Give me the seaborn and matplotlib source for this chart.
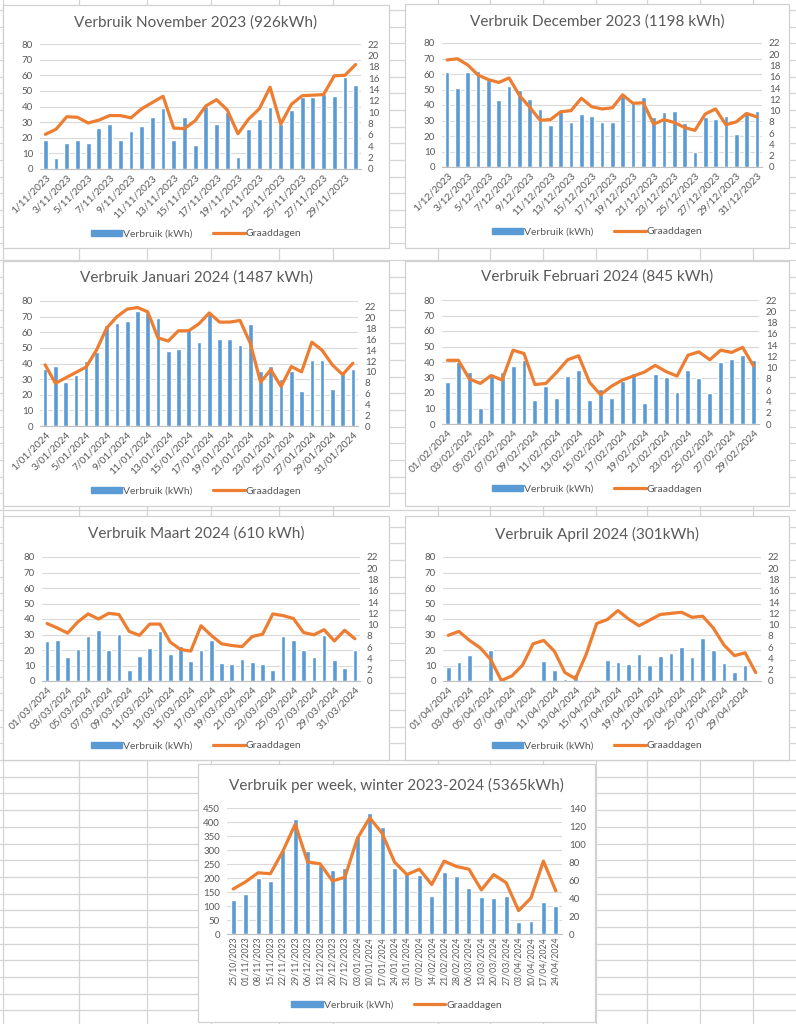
import numpy as np
import pandas as pd
import matplotlib.pyplot as plt
import matplotlib.patches as mpatches
from matplotlib.lines import Line2D
import seaborn as sns

sns.set_style("white")
plt.rcParams['font.family'] = ['Lato', 'DejaVu Sans']

W, H = 796, 1024
BLUE = '#5B9BD5'
ORANGE = '#ED7D31'
TXT = '#595959'
GRID = '#D9D9D9'

# daily data: kWh (bars) and graaddagen (line)
nov_kwh = [18.4, 7.3, 16.5, 18.4, 16.5, 26.5, 28.9, 18.4, 24.2, 27.8, 33.4, 39.1, 18.4, 33.4, 15.4,
           40.6, 28.9, 36.4, 7.7, 25.5, 32.3, 39.8, 29.0, 37.9, 46.0, 46.0, 48.0, 46.8, 59.0, 54.0]
nov_gd = [6.1, 7.0, 9.2, 9.1, 8.1, 8.6, 9.4, 9.4, 9.0, 10.6, 11.7, 12.8, 7.2, 7.1, 8.5,
          11.1, 12.2, 10.4, 6.2, 8.8, 10.6, 14.4, 7.9, 11.4, 12.9, 13.0, 13.1, 16.4, 16.5, 18.4]

dec_kwh = [61.0, 51.2, 61.0, 62.0, 56.0, 43.2, 52.0, 50.0, 44.0, 37.6, 26.8, 36.8, 29.2, 34.4, 33.0, 28.8,
           28.8, 46.0, 42.0, 45.2, 32.2, 35.7, 36.1, 28.5, 9.7, 32.4, 31.1, 33.0, 21.6, 34.6, 36.1]
dec_gd = [19.0, 19.2, 18.1, 16.3, 15.5, 15.0, 15.8, 12.7, 10.6, 8.3, 8.4, 9.8, 10.0, 12.2, 10.7, 10.3,
          10.5, 12.8, 11.3, 11.4, 7.6, 8.4, 7.9, 7.0, 6.5, 9.4, 10.3, 7.5, 8.0, 9.5, 8.9]

jan_kwh = [36.2, 38.4, 28.1, 32.6, 41.4, 47.5, 64.6, 66.1, 67.2, 73.8, 72.7, 68.9, 47.8, 49.0, 61.4, 54.0,
           71.4, 55.9, 55.9, 52.0, 65.2, 35.2, 38.4, 30.1, 35.2, 22.2, 42.2, 42.2, 23.5, 33.7, 36.5]
jan_gd = [11.3, 7.9, 8.9, 9.9, 10.9, 14.0, 18.1, 20.2, 21.6, 21.9, 21.1, 16.3, 15.7, 17.6, 17.6, 18.9,
          20.9, 19.2, 19.2, 19.5, 15.3, 8.1, 10.4, 7.3, 11.0, 10.0, 15.5, 14.0, 11.3, 9.5, 11.6]

feb_kwh = [27.3, 39.8, 33.5, 10.3, 30.7, 33.5, 37.4, 41.0, 15.5, 24.3, 16.8, 31.2, 34.8, 15.5, 22.6,
           16.8, 28.0, 32.9, 13.8, 32.5, 30.1, 20.6, 34.8, 29.5, 20.0, 40.0, 41.9, 44.3, 41.3]
feb_gd = [11.3, 11.3, 8.0, 7.2, 8.6, 7.8, 13.1, 12.5, 7.0, 7.2, 9.2, 11.4, 12.1, 7.4, 5.2,
          6.7, 7.8, 8.5, 9.2, 10.4, 9.3, 8.5, 12.2, 12.8, 11.4, 13.1, 12.7, 13.6, 10.3]

mar_kwh = [25.7, 26.3, 15.6, 20.7, 29.3, 32.9, 19.9, 30.4, 6.8, 16.3, 21.4, 32.3, 17.5, 22.7, 13.0, 19.9,
           26.7, 11.8, 11.1, 14.3, 12.4, 11.1, 6.8, 29.3, 26.7, 19.9, 15.6, 29.9, 13.7, 8.6, 20.1]
mar_gd = [10.2, 9.4, 8.5, 10.5, 11.9, 11.0, 12.0, 11.8, 8.8, 8.1, 10.1, 10.1, 6.9, 5.6, 5.3, 9.8,
          8.1, 6.6, 6.3, 6.1, 7.9, 8.3, 11.9, 11.6, 11.1, 8.6, 8.2, 9.1, 7.1, 9.0, 7.5]

apr_kwh = [9.2, 12.4, 16.9, 0.9, 20.1, 0.0, 0.9, 0.0, 0.0, 13.0, 7.3, 1.1, 4.3, 0.0, 0.0,
           13.5, 12.4, 10.9, 17.1, 10.5, 16.3, 18.2, 22.0, 15.4, 28.0, 20.3, 11.8, 6.0, 10.3, 0.0]
apr_gd = [8.1, 8.8, 7.2, 5.9, 3.8, 0.1, 0.9, 2.8, 6.6, 7.2, 5.3, 1.5, 0.4, 4.7, 10.2,
          10.9, 12.5, 11.0, 9.8, 10.8, 11.8, 12.0, 12.2, 11.3, 11.5, 9.4, 6.4, 4.5, 5.0, 1.5]

# weekly data
week_labels = ['25/10/2023', '01/11/2023', '08/11/2023', '15/11/2023', '22/11/2023', '29/11/2023',
               '06/12/2023', '13/12/2023', '20/12/2023', '27/12/2023', '03/01/2024', '10/01/2024',
               '17/01/2024', '24/01/2024', '31/01/2024', '07/02/2024', '14/02/2024', '21/02/2024',
               '28/02/2024', '06/03/2024', '13/03/2024', '20/03/2024', '27/03/2024', '03/04/2024',
               '10/04/2024', '17/04/2024', '24/04/2024']
week_kwh = [123, 142, 200, 191, 301, 409, 295, 247, 227, 235, 354, 433, 382, 235, 215, 209, 134,
            222, 206, 165, 131, 128, 134, 44, 48, 113, 100]
week_gd = [50, 58, 68, 67, 92, 122, 80, 78, 59, 63, 106, 129, 112, 80, 66, 72, 55, 81, 75, 72,
           49, 66, 57, 26, 40, 81, 48]


def day_labels(n, month, fmt):
    return [fmt.format(d=d, m=month) for d in range(1, n + 1)]


def frac(x0, y0, x1, y1):
    return [x0 / W, 1 - y1 / H, (x1 - x0) / W, (y1 - y0) / H]


fig = plt.figure(figsize=(W / 100, H / 100), dpi=100)
fig.patch.set_facecolor('white')

# spreadsheet background
bg = fig.add_axes([0, 0, 1, 1])
bg.set_xlim(0, W)
bg.set_ylim(H, 0)
bg.axis('off')
for x in [3, 79, 147, 211, 279, 333, 438, 490, 543, 596, 647, 700, 753]:
    bg.axvline(x, color='#D4D4D4', lw=0.9, zorder=0)
for y in np.arange(10, H, 16.67):
    bg.axhline(y, color='#D4D4D4', lw=0.9, zorder=0)


def draw_chart(title, box, plot, labels, kwh, gd, lmax, lstep, rtop, rmax, rstep,
               every, rot, title_y, legend_y, xfs=7.3, bar_w=0.45):
    bx0, by0, bx1, by1 = box
    bg.add_patch(mpatches.Rectangle((bx0, by0), bx1 - bx0, by1 - by0, facecolor='white',
                                    edgecolor='#D0D0D0', lw=0.9, zorder=2))
    ax = fig.add_axes(frac(*plot))
    ax.set_facecolor('none')
    n = len(kwh)
    df = pd.DataFrame({'pos': np.arange(n), 'kwh': kwh, 'gd': gd})
    sns.barplot(data=df, x='pos', y='kwh', ax=ax, color=BLUE, saturation=1, width=bar_w, zorder=2)
    ax.set_ylim(0, lmax)
    ax.set_yticks(np.arange(0, lmax + 1, lstep))
    ax.grid(axis='y', color=GRID, lw=0.8, zorder=0)
    ax.set_axisbelow(True)
    ax2 = ax.twinx()
    sns.lineplot(data=df, x='pos', y='gd', ax=ax2, color=ORANGE, lw=2.3)
    ax2.set_ylim(0, rtop)
    ax2.set_yticks(np.arange(0, rmax + 0.1, rstep))
    ax.set_xlim(-0.5, n - 0.5)
    ax.set_xticks(np.arange(0, n, every))
    ax.set_xticklabels(labels[::every], rotation=rot,
                       ha='right' if rot == 45 else 'center',
                       rotation_mode='anchor' if rot == 45 else 'default',
                       fontsize=xfs, color=TXT)
    for a in (ax, ax2):
        a.set_xlabel('')
        a.set_ylabel('')
        for s in a.spines.values():
            s.set_visible(False)
        a.tick_params(axis='y', length=0, labelsize=7, labelcolor=TXT, pad=5)
    ax.spines['bottom'].set_visible(True)
    ax.spines['bottom'].set_color('#BFBFBF')
    ax.spines['bottom'].set_linewidth(0.8)
    ax.tick_params(axis='x', length=0, pad=3 if rot == 45 else 2)

    cx = (bx0 + bx1) / 2 / W
    fig.text(cx, 1 - title_y / H, title, ha='center', va='center', fontsize=11, color=TXT)
    handles = [mpatches.Patch(color=BLUE, label='Verbruik (kWh)'),
               Line2D([], [], color=ORANGE, lw=2.3, label='Graaddagen')]
    fig.legend(handles=handles, loc='center', bbox_to_anchor=(cx, 1 - legend_y / H), ncol=2,
               frameon=False, fontsize=7.5, labelcolor=TXT, handlelength=3.0, handleheight=0.5,
               handletextpad=0.1, columnspacing=2.0)


draw_chart('Verbruik November 2023 (926kWh)', (3, 5, 389, 248), (40, 44, 361, 169),
           day_labels(30, 11, '{d}/{m}/2023'), nov_kwh, nov_gd, 80, 10, 22, 22, 2, 2, 45, 23, 234)
draw_chart('Verbruik December 2023 (1198 kWh)', (405, 4, 789, 248), (442, 43, 762, 167),
           day_labels(31, 12, '{d}/{m}/2023'), dec_kwh, dec_gd, 80, 10, 22, 22, 2, 2, 45, 22, 232)
draw_chart('Verbruik Januari 2024 (1487 kWh)', (3, 261, 389, 506), (40, 301, 358, 426),
           day_labels(31, 1, '{d}/0{m}/2024'), jan_kwh, jan_gd, 80, 10, 23.1, 22, 2, 2, 45, 278, 491)
draw_chart('Verbruik Februari 2024 (845 kWh)', (405, 261, 789, 506), (442, 300, 759, 424),
           day_labels(29, 2, '{d:02d}/0{m}/2024'), feb_kwh, feb_gd, 80, 10, 22, 22, 2, 2, 45, 277, 489)
draw_chart('Verbruik Maart 2024 (610 kWh)', (3, 516, 389, 760), (42, 557, 360, 681),
           day_labels(31, 3, '{d:02d}/0{m}/2024'), mar_kwh, mar_gd, 80, 10, 22, 22, 2, 2, 45, 534, 746)
draw_chart('Verbruik April 2024 (301kWh)', (405, 516, 789, 760), (443, 557, 761, 681),
           day_labels(30, 4, '{d:02d}/0{m}/2024'), apr_kwh, apr_gd, 80, 10, 22, 22, 2, 2, 45, 534, 746)
draw_chart('Verbruik per week, winter 2023-2024 (5365kWh)', (198, 764, 595, 1022), (227, 808, 562, 934),
           week_labels, week_kwh, week_gd, 450, 50, 140, 140, 20, 1, 90, 785, 1005, xfs=6.3, bar_w=0.4)

fig.savefig('out.png', dpi=100)
